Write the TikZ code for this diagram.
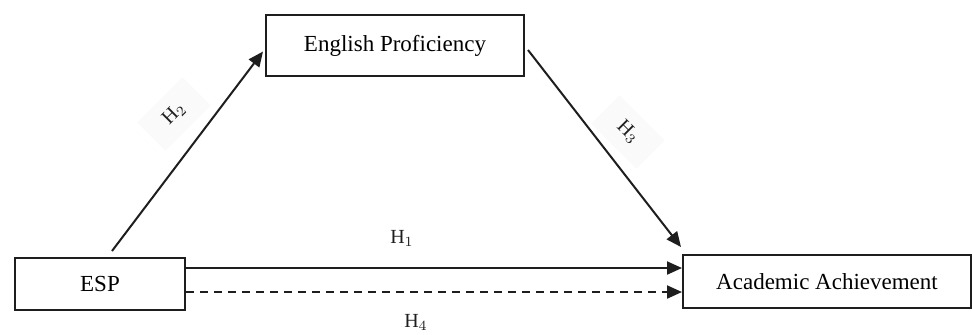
\documentclass[tikz,border=0pt]{standalone}
\usepackage{fontspec}
\setmainfont{Liberation Serif}
\usepackage{xcolor}
\usetikzlibrary{arrows.meta, positioning, calc}
\definecolor{LineGray}{RGB}{30, 30, 30}
\definecolor{LabelFill}{RGB}{250, 250, 250}

\tikzset{
  varbox/.style={draw=LineGray, fill=white, line width=1pt, align=center, inner sep=0pt,
                 font=\fontsize{11.5}{13.5}\selectfont},
  path/.style={draw=LineGray, line width=1pt, -{Triangle[length=7.5pt, width=6.5pt]}},
  hyp/.style={font=\fontsize{10}{12}\selectfont, text=LineGray}
}

\begin{document}
\begin{tikzpicture}[x=0.5pt, y=-0.5pt]
        \useasboundingbox (0,0) rectangle (972,334);
        % labels (behind the paths)
        \node[hyp, fill=LabelFill, rotate=45, minimum width=32pt, minimum height=20pt] (lh2) at (174,114) {H$_2$};
        \node[hyp, fill=LabelFill, rotate=-45, minimum width=32pt, minimum height=20pt] (lh3) at (628,132) {H$_3$};
        \node[hyp] (lh1) at (402,238) {H$_1$};
        \node[hyp] (lh4) at (416,322) {H$_4$};
        % variables
        \node[varbox, minimum width=85pt, minimum height=26pt] (esp) at (100,284) {ESP};
        \node[varbox, minimum width=129pt, minimum height=30.5pt] (prof) at (395,45.5) {English Proficiency};
        \node[varbox, minimum width=144pt, minimum height=26.5pt] (ach) at (827,281.5) {Academic Achievement};
        % hypotheses
        \coordinate (h1s) at ([yshift=8pt]esp.east);
        \coordinate (h4s) at ([yshift=-4pt]esp.east);
        \draw[path] ([xshift=6pt, yshift=3pt]esp.north) -- ([shift={(-1pt,-3pt)}]prof.west);
        \draw[path] ([shift={(1.5pt,-2.25pt)}]prof.east) -- ([shift={(-0.5pt,3.5pt)}]ach.north west);
        \draw[path] (h1s) -- (h1s -| ach.west);
        \draw[path, dash pattern=on 4pt off 3pt] (h4s) -- (h4s -| ach.west);
      \end{tikzpicture}
\end{document}
